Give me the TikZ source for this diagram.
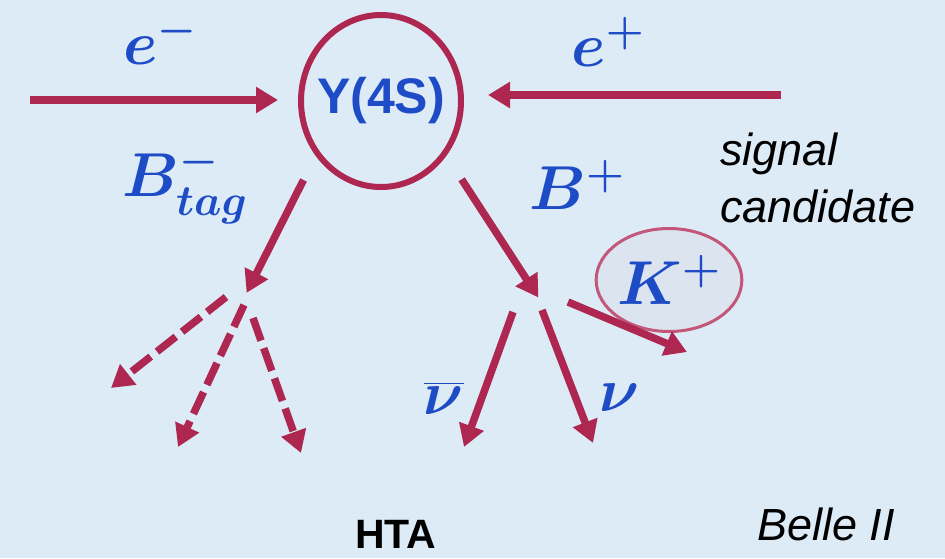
\RequirePackage{fix-cm}
\documentclass[tikz,border=0pt]{standalone}
\usepackage{amsmath}
\usepackage{fontspec}
\setmainfont{Liberation Sans}
\usetikzlibrary{arrows.meta,shapes.geometric}
\definecolor{sky}{HTML}{DDEBF7}
\definecolor{crimson}{HTML}{AD2750}
\definecolor{rose}{HTML}{C2577A}
\definecolor{ink}{HTML}{1E4BC6}
\definecolor{haze}{HTML}{DCE4F0}

\begin{document}
\begin{tikzpicture}[x=1pt,y=-1pt,>={Triangle[length=22pt,width=25pt]},
  beam/.style={->,line width=7.5pt,crimson},
  jet/.style={beam,dash pattern=on 24pt off 8pt},
  sym/.style={inner sep=0,text=ink,font=\fontsize{62}{66}\selectfont\boldmath},
  note/.style={inner sep=0,font=\fontsize{45}{57}\selectfont\itshape,align=left}]
\fill[sky] (0,0) rectangle (945,558);
\useasboundingbox (0,0) rectangle (945,558);
% resonance and kaon
\node[ellipse,draw=crimson,line width=6pt,minimum width=160pt,minimum height=172pt,inner sep=0] (ups) at (381,101) {};
\node[text=ink,font=\bfseries\fontsize{50}{52}\selectfont,inner sep=0] (upslabel) at (ups) {Υ(4S)};
\node[ellipse,draw=rose,line width=3pt,fill=haze,minimum width=121pt,minimum height=103pt,sym] (kaon) at (669,280) {$K^+$};
% beams
\coordinate (em) at (30,100);
\coordinate (ep) at (781,95);
\draw[beam,shorten >=20pt] (em) -- (em -| ups.west);
\draw[beam,shorten >=24pt] (ep) -- (ep -| ups.east);
% decay vertices and end points
\coordinate (tag) at (243,300);
\coordinate (sig) at (540,300);
\coordinate (t1) at (111,388);
\coordinate (t2) at (178,447);
\coordinate (t3) at (301,453);
\coordinate (nb) at (464,447);
\coordinate (nn) at (593,443);
\coordinate (kk) at (687,352);
\draw[beam,shorten <=27pt,shorten >=8pt] (ups.-140) -- (tag);
\draw[beam,shorten <=28pt,shorten >=3pt] (ups.-40) -- (sig);
\draw[jet] ([shift={(-17,-3)}]tag) -- (t1);
\draw[jet] ([shift={(1,5)}]tag) -- (t2);
\draw[jet] ([shift={(10,18)}]tag) -- (t3);
\draw[beam] ([shift={(-27,12)}]sig) -- (nb);
\draw[beam] ([shift={(2,10)}]sig) -- (nn);
\draw[beam] ([shift={(28,2)}]sig) -- (kk);
% labels
\node[sym] (lep1) at (160,40) {$e^-$};
\node[sym] (lep2) at (608,42) {$e^+$};
\node[sym] (btag) at (185,185) {$B^-_{tag}$};
\node[sym] (bsig) at (577,185) {$B^+$};
\node[sym] (nubar) at (444,398) {$\overline{\nu}$};
\node[sym] (nu) at (620,398) {$\nu$};
\node[note,anchor=west] (cand) at (720,178) {signal\\candidate};
\node[note,anchor=base west] (belle) at (757,540) {Belle II};
\node[inner sep=0,anchor=base west,font=\bfseries\fontsize{41}{44}\selectfont] (hta) at (355,548) {HTA};
\end{tikzpicture}
\end{document}
